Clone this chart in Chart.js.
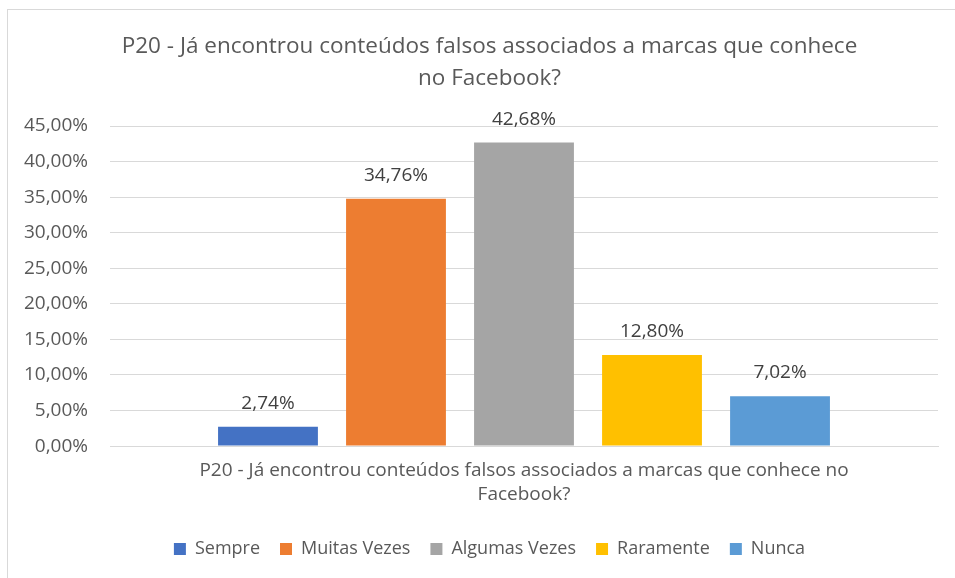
<!DOCTYPE html>
<html>
<head>
<meta charset="utf-8">
<script src="https://cdn.jsdelivr.net/npm/chart.js@4/dist/chart.umd.min.js"></script>
<style>
    html, body { margin: 0; padding: 0; background: #fff; }
    #wrap { position: relative; width: 955px; height: 578px; overflow: hidden; }
    #frame { position: absolute; left: 7px; top: 9px; width: 965px; height: 600px; border: 1px solid #d9d9d9; box-sizing: border-box; }
    #chart { position: absolute; left: 0; top: 0; }
</style>
</head>
<body>
<div id="wrap">
    <div id="frame"></div>
    <canvas id="chart" width="955" height="578"></canvas>
</div>
<script>
const titleLines = ['P20 - Já encontrou conteúdos falsos associados a marcas que conhece', 'no Facebook?'];
const categoryLines = ['P20 - Já encontrou conteúdos falsos associados a marcas que conhece no', 'Facebook?'];
const seriesNames = ['Sempre', 'Muitas Vezes', 'Algumas Vezes', 'Raramente', 'Nunca'];
const seriesValues = [2.74, 34.76, 42.68, 12.80, 7.02];
const seriesColors = ['#4472C4', '#ED7D31', '#A5A5A5', '#FFC000', '#5B9BD5'];
const yTicks = [0, 5, 10, 15, 20, 25, 30, 35, 40, 45];

const FONT = '"Open Sans"';
const fmt = v => v.toFixed(2).replace('.', ',') + '%';

const ctx = document.getElementById('chart').getContext('2d');

// y labels are mirrored (so they are not clipped to the axis box) and pulled back left
ctx.font = `19px ${FONT}`;
const widestTick = Math.max(...yTicks.map(v => ctx.measureText(fmt(v)).width));
const tickGap = 22;

// draws the value above each bar
const valueLabels = {
    id: 'valueLabels',
    afterDatasetsDraw(chart) {
        const c = chart.ctx;
        c.save();
        c.font = `19px ${FONT}`;
        c.fillStyle = '#404040';
        c.textAlign = 'center';
        c.textBaseline = 'alphabetic';
        chart.data.datasets.forEach((ds, i) => {
            const meta = chart.getDatasetMeta(i);
            meta.data.forEach((bar, j) => {
                c.fillText(fmt(ds.data[j]), bar.x, bar.y - 18);
            });
        });
        c.restore();
    }
};

new Chart(ctx, {
    type: 'bar',
    data: {
        labels: [categoryLines],
        datasets: seriesNames.map((name, i) => ({
            label: name,
            data: [seriesValues[i]],
            backgroundColor: seriesColors[i],
            categoryPercentage: 0.773,
            barPercentage: 0.78
        }))
    },
    options: {
        responsive: false,
        animation: false,
        layout: { padding: { left: 41, right: 17, top: 14, bottom: 10 } },
        plugins: {
            title: {
                display: true,
                text: titleLines,
                color: '#595959',
                font: { family: FONT, size: 22.5, weight: 'normal', lineHeight: 1.4 },
                padding: { top: 17, bottom: 32 }
            },
            legend: {
                position: 'bottom',
                labels: {
                    color: '#595959',
                    font: { family: FONT, size: 18 },
                    boxWidth: 12,
                    boxHeight: 12,
                    padding: 20
                }
            },
            tooltip: { enabled: false }
        },
        scales: {
            y: {
                min: 0,
                max: 45,
                afterBuildTicks: axis => { axis.ticks = yTicks.map(v => ({ value: v })); },
                afterFit: axis => { axis.width = 69; },
                border: { display: false },
                grid: { color: '#d9d9d9', drawTicks: false },
                ticks: {
                    color: '#595959',
                    font: { family: FONT, size: 19 },
                    mirror: true,
                    crossAlign: 'far',
                    padding: -tickGap - widestTick,
                    callback: v => fmt(v)
                }
            },
            x: {
                border: { color: '#d9d9d9' },
                grid: { display: false, drawTicks: false },
                ticks: {
                    color: '#595959',
                    font: { family: FONT, size: 19, lineHeight: 1.26 },
                    padding: 13
                }
            }
        }
    },
    plugins: [valueLabels]
});
</script>
</body>
</html>
